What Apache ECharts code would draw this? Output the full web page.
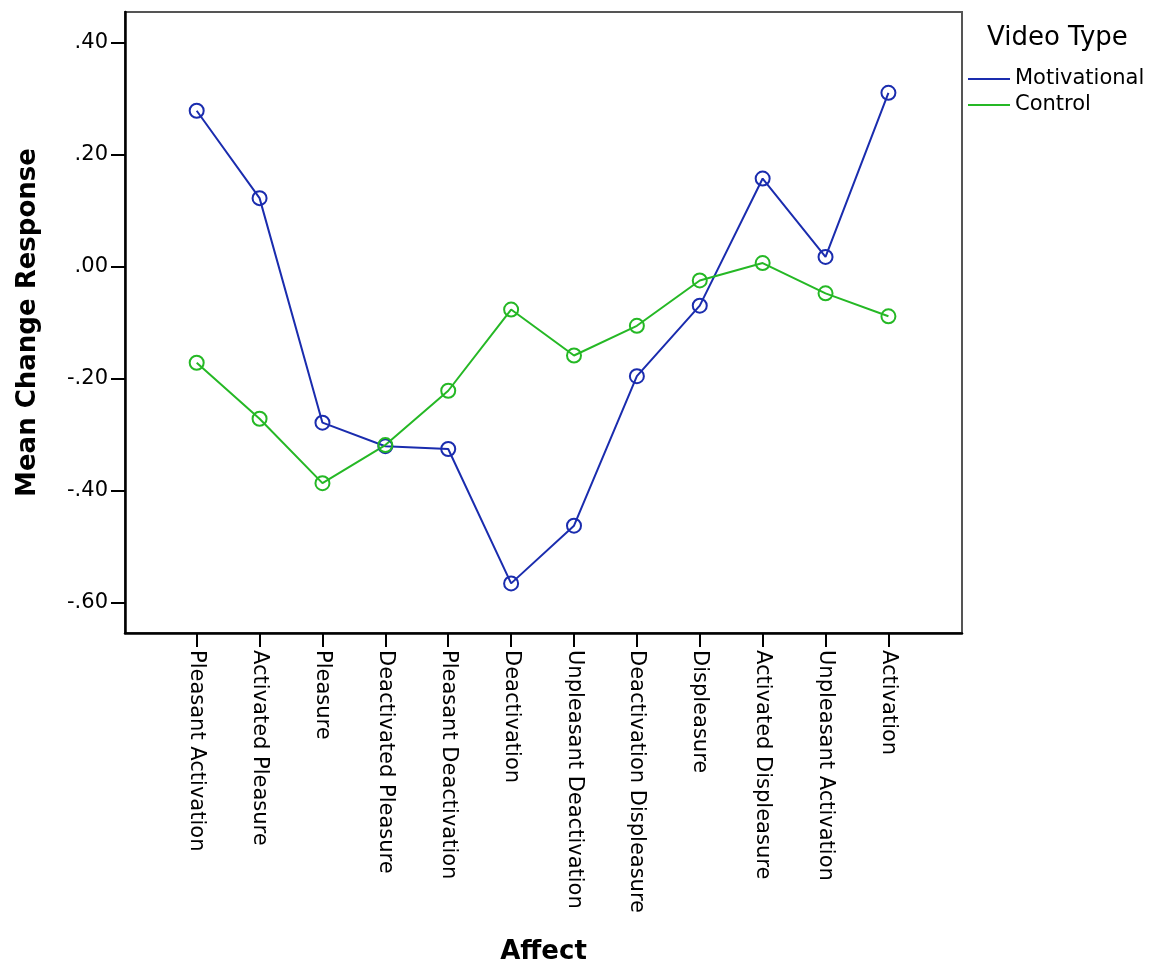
<!DOCTYPE html>
<html>
<head>
<meta charset="utf-8">
<script src="https://cdn.jsdelivr.net/npm/echarts@6/dist/echarts.min.js"></script>
<style>
html,body{margin:0;padding:0;background:#fff;}
#chart{width:1158px;height:965px;}
</style>
</head>
<body>
<div id="chart"></div>
<script>
const categories = ["Pleasant Activation","Activated Pleasure","Pleasure","Deactivated Pleasure","Pleasant Deactivation","Deactivation","Unpleasant Deactivation","Deactivation Displeasure","Displeasure","Activated Displeasure","Unpleasant Activation","Activation"];
const motivational = [0.279, 0.123, -0.278, -0.320, -0.325, -0.565, -0.462, -0.195, -0.069, 0.158, 0.018, 0.311];
const control = [-0.171, -0.271, -0.386, -0.318, -0.221, -0.076, -0.158, -0.105, -0.024, 0.007, -0.047, -0.088];
const yTicks = [-0.6, -0.4, -0.2, 0, 0.2, 0.4];
const xTicks = categories.map((c, i) => i);

const FONT = "DejaVu Sans";
const BLUE = '#1a2cae';
const GREEN = '#25b825';
function fmtY(v) {
  let s = Math.abs(v).toFixed(2).replace(/^0\./, '.');
  return (v < -1e-9 ? '-' : '') + s;
}
const chart = echarts.init(document.getElementById('chart'), null, {renderer: 'canvas'});
chart.setOption({
  backgroundColor: '#ffffff',
  animation: false,
  title: {
    text: 'Video Type', left: 987, top: 25, padding: 0,
    textStyle: {fontFamily: FONT, fontSize: 26, fontWeight: 'normal', color: '#000'}
  },
  legend: {
    orient: 'vertical', left: 968, top: 66, padding: 0, itemGap: 0,
    icon: 'rect', itemWidth: 42, itemHeight: 2,
    textStyle: {fontFamily: FONT, fontSize: 21, color: '#000', lineHeight: 26, padding: [0,0,0,0]},
    data: [
      {name: 'Motivational', itemStyle: {color: BLUE, borderWidth: 0}},
      {name: 'Control', itemStyle: {color: GREEN, borderWidth: 0}}
    ]
  },
  grid: {left: 125, top: 12, width: 837, height: 621, show: true, borderColor: '#555', borderWidth: 2,
         backgroundColor: 'transparent', containLabel: false, outerBoundsMode: 'none'},
  xAxis: {
    type: 'value', min: -1.14, max: 12.17,
    name: 'Affect', nameLocation: 'middle', nameGap: 306,
    nameTextStyle: {fontFamily: FONT, fontSize: 26, fontWeight: 'bold', color: '#000'},
    axisLine: {show: true, onZero: false, lineStyle: {color: '#000', width: 2.5}},
    axisTick: {show: true, inside: false, length: 14, customValues: xTicks, lineStyle: {color: '#000', width: 2}},
    axisLabel: {
      customValues: xTicks, rotate: -90, margin: 17,
      fontFamily: FONT, fontSize: 21, color: '#000',
      formatter: v => categories[Math.round(v)] || ''
    },
    splitLine: {show: false}
  },
  yAxis: {
    type: 'value', min: -0.6536, max: 0.4554,
    name: 'Mean Change Response', nameLocation: 'middle', nameGap: 84, nameRotate: 90,
    nameTextStyle: {fontFamily: FONT, fontSize: 26, fontWeight: 'bold', color: '#000'},
    axisLine: {show: true, onZero: false, lineStyle: {color: '#000', width: 2.5}},
    axisTick: {show: true, inside: false, length: 14, customValues: yTicks, lineStyle: {color: '#000', width: 2}},
    axisLabel: {customValues: yTicks, margin: 17, fontFamily: FONT, fontSize: 21, color: '#000', formatter: fmtY},
    splitLine: {show: false}
  },
  series: [
    {
      name: 'Motivational', type: 'line',
      data: motivational.map((v, i) => [i, v]),
      symbol: 'circle', symbolSize: 14,
      lineStyle: {color: BLUE, width: 2},
      itemStyle: {color: 'rgba(255,255,255,0)', borderColor: BLUE, borderWidth: 2}
    },
    {
      name: 'Control', type: 'line',
      data: control.map((v, i) => [i, v]),
      symbol: 'circle', symbolSize: 14,
      lineStyle: {color: GREEN, width: 2},
      itemStyle: {color: 'rgba(255,255,255,0)', borderColor: GREEN, borderWidth: 2}
    }
  ]
});
</script>
</body>
</html>
